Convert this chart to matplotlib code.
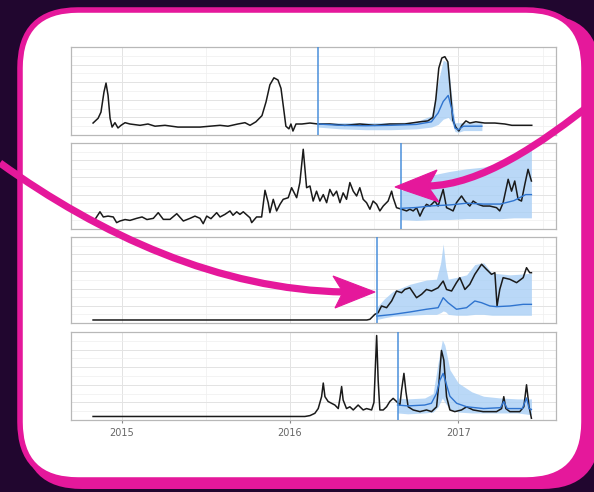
import matplotlib
matplotlib.use("Agg")
import matplotlib.pyplot as plt
from matplotlib.patches import FancyBboxPatch, Polygon, PathPatch
from matplotlib.path import Path
import numpy as np

# ---------------- data (decimal years, relative level 0-100) ----------------
year_ticks = [2015, 2016, 2017]
year_labels = ["2015", "2016", "2017"]

# panel 1
p1_t = [2014.831, 2014.861, 2014.878, 2014.896, 2014.908, 2014.920, 2014.932, 2014.944, 2014.961, 2014.979,
        2014.997, 2015.021, 2015.050, 2015.110, 2015.157, 2015.199, 2015.258, 2015.335, 2015.407, 2015.466,
        2015.525, 2015.585, 2015.632, 2015.691, 2015.733, 2015.763, 2015.798, 2015.834, 2015.858, 2015.881,
        2015.905, 2015.929, 2015.947, 2015.964, 2015.976, 2015.994, 2016.006, 2016.018, 2016.036, 2016.071,
        2016.119, 2016.166, 2016.237, 2016.326, 2016.415, 2016.504, 2016.593, 2016.682, 2016.772, 2016.819,
        2016.849, 2016.866, 2016.884, 2016.902, 2016.920, 2016.938, 2016.955, 2016.967, 2016.985, 2017.003,
        2017.021, 2017.045, 2017.068, 2017.104, 2017.157, 2017.217, 2017.276, 2017.318, 2017.377, 2017.436]
p1_v = [13.6, 19, 26, 49, 59, 45, 19, 9, 14, 8,
        11, 14, 12.5, 11, 12.5, 10, 11, 9, 9, 9,
        10, 11, 10, 12.5, 14, 11, 15, 22, 37.5, 57,
        65, 62.5, 53, 28, 10, 7, 12.5, 4.5, 12.5, 12.5,
        13.6, 12.5, 12.5, 11, 12.5, 11, 12.5, 12.5, 15, 16,
        20, 40, 76, 87.5, 89, 83, 45, 17, 9, 4.5,
        11, 16, 13.6, 15, 13.6, 13.6, 12.5, 11, 11, 11]
p1_cut = 2016.166
p1_ft = [2016.166, 2016.30, 2016.45, 2016.60, 2016.75, 2016.84, 2016.88, 2016.91, 2016.94, 2016.96, 2016.98, 2017.00, 2017.03, 2017.14]
p1_fv = [12.5, 11, 10.5, 11, 12, 15, 25, 38, 45, 30, 8, 6, 10, 10]
p1_lo = [9, 7, 6, 6, 7, 9, 12, 18, 20, 15, 4, 3, 5, 5]
p1_hi = [14, 14, 14, 14, 15, 22, 60, 85, 82, 45, 14, 14, 14, 14]

# panel 2
p2_t = [2014.831, 2014.843, 2014.872, 2014.892, 2014.920, 2014.951, 2014.971, 2014.991, 2015.021, 2015.050,
        2015.090, 2015.122, 2015.151, 2015.189, 2015.218, 2015.248, 2015.288, 2015.328, 2015.367, 2015.407,
        2015.436, 2015.466, 2015.485, 2015.506, 2015.531, 2015.565, 2015.585, 2015.614, 2015.644, 2015.662,
        2015.684, 2015.703, 2015.723, 2015.763, 2015.773, 2015.802, 2015.832, 2015.852, 2015.871, 2015.881,
        2015.901, 2015.921, 2015.941, 2015.960, 2015.990, 2016.010, 2016.040, 2016.059, 2016.079, 2016.099,
        2016.119, 2016.138, 2016.158, 2016.178, 2016.198, 2016.218, 2016.237, 2016.257, 2016.277, 2016.297,
        2016.316, 2016.336, 2016.356, 2016.376, 2016.396, 2016.415, 2016.435, 2016.455, 2016.475, 2016.494,
        2016.515, 2016.534, 2016.554, 2016.583, 2016.604, 2016.613, 2016.633, 2016.663, 2016.693, 2016.712,
        2016.732, 2016.752, 2016.772, 2016.791, 2016.811, 2016.831, 2016.861, 2016.880, 2016.910, 2016.930,
        2016.950, 2016.969, 2016.989, 2017.019, 2017.039, 2017.068, 2017.088, 2017.117, 2017.147, 2017.187,
        2017.227, 2017.246, 2017.266, 2017.296, 2017.316, 2017.335, 2017.355, 2017.375, 2017.395, 2017.414,
        2017.434]
p2_v = [9.3, 11.3, 20, 14, 15, 14, 7.4, 9.3, 11, 10,
        12.4, 14, 11, 12.4, 19, 11.2, 11.2, 17.8, 9.3, 12.4,
        15, 12.4, 6.2, 15, 12, 19, 14, 17, 21, 16,
        20, 17, 20, 13, 7.4, 14, 14, 45, 30.6, 19,
        34.5, 21, 28.7, 34.5, 36.4, 48, 36.4, 54, 92.7, 48,
        50, 32.5, 44, 32.5, 40, 30.6, 46, 38.4, 44, 30.6,
        42, 34.5, 54, 44, 38.4, 48, 34.5, 30.6, 23, 32.5,
        28.7, 21, 26.7, 32.5, 44, 36.4, 24.8, 23, 21, 23,
        21, 24.8, 15, 23, 28.7, 26.7, 32.5, 26.7, 46, 24.8,
        23, 21, 30.6, 38.4, 32.5, 26.7, 32.5, 28.7, 26.7, 26.7,
        24.8, 21, 30.6, 57.8, 44, 55.8, 34.5, 32.5, 52, 69.4,
        55.8]
p2_cut = 2016.657
p2_ft = [2016.657, 2016.75, 2016.85, 2016.95, 2017.05, 2017.15, 2017.25, 2017.33, 2017.40, 2017.434]
p2_fv = [24, 25, 27, 28, 30, 29, 29, 33, 40, 40]
p2_lo = [11, 10, 11, 11, 12, 12, 12, 13, 13, 13]
p2_hi = [44, 56, 63, 67, 70, 72, 77, 84, 90, 92]

# panel 3
p3_t = [2014.831, 2015.466, 2016.059, 2016.457, 2016.475, 2016.504, 2016.524, 2016.544, 2016.574, 2016.604,
        2016.633, 2016.663, 2016.682, 2016.712, 2016.732, 2016.752, 2016.782, 2016.811, 2016.841, 2016.880,
        2016.910, 2016.930, 2016.960, 2016.989, 2017.009, 2017.039, 2017.068, 2017.098, 2017.138, 2017.167,
        2017.197, 2017.217, 2017.230, 2017.246, 2017.266, 2017.306, 2017.346, 2017.385, 2017.405, 2017.424,
        2017.434]
p3_v = [3.5, 3.5, 3.5, 3.5, 4.3, 10, 12, 19.8, 17.8, 25.6,
        37.2, 35.2, 39, 41, 35.2, 29.4, 33.4, 39, 37.2, 41,
        48.8, 39, 37.2, 46.9, 52.7, 39, 45, 56.6, 68.3, 62.4,
        56.6, 58.5, 19.8, 39, 52.7, 50.8, 46.9, 52.7, 64.3, 58.5,
        58.5]
p3_cut = 2016.516
p3_ft = [2016.515, 2016.613, 2016.712, 2016.811, 2016.880, 2016.910, 2016.939, 2016.989, 2017.049, 2017.098,
         2017.138, 2017.187, 2017.227, 2017.306, 2017.385, 2017.434]
p3_fv = [8, 10, 12.8, 16, 17.8, 29.4, 23.6, 16, 17.8, 25.6, 23.6, 19.8, 19, 19.8, 21.7, 21.7]
p3_bt = [2016.515, 2016.56, 2016.613, 2016.712, 2016.811, 2016.87, 2016.895, 2016.91, 2016.925, 2016.94,
         2016.989, 2017.049, 2017.098, 2017.15, 2017.20, 2017.306, 2017.385, 2017.434]
p3_lo = [4, 6, 8, 9, 10, 10, 12, 14, 13, 10, 9, 9, 10, 10, 9, 9, 9, 9]
p3_hi = [18, 28, 37, 45, 50, 51, 70, 92, 65, 51, 53, 56, 68, 70, 58, 56, 57, 58]

# panel 4
p4_t = [2014.831, 2015.466, 2016.089, 2016.119, 2016.148, 2016.168, 2016.188, 2016.198, 2016.208, 2016.227,
        2016.247, 2016.267, 2016.287, 2016.297, 2016.307, 2016.316, 2016.336, 2016.356, 2016.376, 2016.405,
        2016.435, 2016.455, 2016.485, 2016.499, 2016.515, 2016.524, 2016.534, 2016.554, 2016.574, 2016.593,
        2016.613, 2016.633, 2016.653, 2016.663, 2016.677, 2016.689, 2016.702, 2016.732, 2016.772, 2016.811,
        2016.841, 2016.871, 2016.886, 2016.900, 2016.914, 2016.930, 2016.950, 2016.979, 2017.019, 2017.049,
        2017.088, 2017.147, 2017.227, 2017.257, 2017.270, 2017.282, 2017.306, 2017.365, 2017.389, 2017.405,
        2017.420, 2017.434]
p4_v = [4, 4, 4, 5, 7.6, 13, 26.5, 42, 26.5, 21,
        19, 17, 13, 24.6, 38, 22.7, 13, 15, 11.4, 17,
        11.4, 13, 11.4, 20, 96, 45, 11.4, 11.4, 15, 21,
        24.6, 21, 17, 34, 53, 32, 15, 11.4, 9.5, 11.4,
        9.5, 15, 45, 79, 68, 26.5, 11.4, 9.5, 11.4, 15,
        11.4, 9.5, 9.5, 13, 26.5, 13, 9.5, 9.5, 15, 40,
        15, 2]
p4_cut = 2016.639
p4_ft = [2016.639, 2016.70, 2016.80, 2016.84, 2016.87, 2016.89, 2016.91, 2016.93, 2016.95, 2016.99,
         2017.05, 2017.15, 2017.25, 2017.27, 2017.29, 2017.38, 2017.405, 2017.42, 2017.434]
p4_fv = [17, 16, 17, 19, 30, 45, 53, 40, 27, 19, 15, 13, 14, 21, 13, 13, 25, 13, 12]
p4_bt = [2016.639, 2016.70, 2016.80, 2016.85, 2016.88, 2016.905, 2016.92, 2016.95, 2017.00, 2017.08,
         2017.15, 2017.25, 2017.35, 2017.434]
p4_lo = [8, 7, 8, 9, 15, 25, 20, 12, 9, 8, 8, 8, 8, 6]
p4_hi = [25, 24, 25, 30, 65, 91, 85, 57, 42, 32, 27, 25, 24, 24]

panels = [
    dict(t=p1_t, v=p1_v, cut=p1_cut, ft=p1_ft, fv=p1_fv, bt=p1_ft, lo=p1_lo, hi=p1_hi),
    dict(t=p2_t, v=p2_v, cut=p2_cut, ft=p2_ft, fv=p2_fv, bt=p2_ft, lo=p2_lo, hi=p2_hi),
    dict(t=p3_t, v=p3_v, cut=p3_cut, ft=p3_ft, fv=p3_fv, bt=p3_bt, lo=p3_lo, hi=p3_hi),
    dict(t=p4_t, v=p4_v, cut=p4_cut, ft=p4_ft, fv=p4_fv, bt=p4_bt, lo=p4_lo, hi=p4_hi),
]

# ---------------- layout / style ----------------
W, H = 594, 492
BG = "#21062f"
MAGENTA = "#e5189b"
BAND = "#a9cff5"
FC_LINE = "#2f74cf"
CUT_LINE = "#4a8fdb"

fig = plt.figure(figsize=(W / 100, H / 100), dpi=100, facecolor=BG)

# background card
bg = fig.add_axes([0, 0, 1, 1], zorder=0)
bg.set_xlim(0, W); bg.set_ylim(H, 0); bg.axis("off")
bg.add_patch(FancyBboxPatch((24, 15), 576, 474, boxstyle="round,pad=0,rounding_size=58",
                            fc=MAGENTA, ec="none"))
bg.add_patch(FancyBboxPatch((20, 10), 564, 470, boxstyle="round,pad=0,rounding_size=58",
                            fc="white", ec=MAGENTA, lw=4.0))

def px_axes(x0, y0, x1, y1, z=2):
    return fig.add_axes([x0 / W, 1 - y1 / H, (x1 - x0) / W, (y1 - y0) / H], zorder=z)

panel_px = [(71, 47, 556, 135), (71, 143, 556, 229), (71, 237, 556, 323), (71, 332, 556, 420)]
xmin, xmax = 2014.70, 2017.58

for i, (p, box) in enumerate(zip(panels, panel_px)):
    ax = px_axes(*box)
    ax.set_facecolor("white")
    ax.set_yticks(np.arange(0, 101, 20))
    ax.set_yticks(np.arange(10, 100, 20), minor=True)
    ax.set_xticks(year_ticks)
    ax.set_xticks([2014.5 + k for k in range(4)], minor=True)
    ax.set_xlim(xmin, xmax)
    ax.set_ylim(0, 100)
    ax.grid(True, which="major", color="#e3e3e3", lw=0.7)
    ax.grid(True, which="minor", color="#efefef", lw=0.5)
    ax.set_axisbelow(True)
    for s in ax.spines.values():
        s.set_color("#b8b8b8"); s.set_linewidth(0.9)
    ax.tick_params(axis="y", which="both", left=False, labelleft=False)
    ax.tick_params(axis="x", which="minor", bottom=False)
    if i < 3:
        ax.tick_params(axis="x", which="major", bottom=False, labelbottom=False)
    else:
        ax.set_xticklabels(year_labels)
        ax.tick_params(axis="x", which="major", length=2.5, width=0.8, color="#888888",
                       labelsize=7, labelcolor="#666666", pad=3)
    ax.fill_between(p["bt"], p["lo"], p["hi"], color=BAND, alpha=0.8, lw=0, zorder=2)
    ax.plot(p["t"], p["v"], color="#1a1a1a", lw=1.1, zorder=3)
    ax.plot(p["ft"], p["fv"], color=FC_LINE, lw=1.0, zorder=4)
    ax.axvline(p["cut"], color=CUT_LINE, lw=1.1, zorder=5)

# arrows overlay
ov = fig.add_axes([0, 0, 1, 1], zorder=10)
ov.set_xlim(0, W); ov.set_ylim(H, 0); ov.axis("off"); ov.patch.set_alpha(0)

def curve_arrow(p0, p1, p2, p3, head):
    path = Path([p0, p1, p2, p3], [Path.MOVETO, Path.CURVE4, Path.CURVE4, Path.CURVE4])
    ov.add_patch(PathPatch(path, fc="none", ec=MAGENTA, lw=5.2, capstyle="butt"))
    ov.add_patch(Polygon(head, closed=True, fc=MAGENTA, ec=MAGENTA, lw=0.8))

curve_arrow((0, 163), (100, 235), (220, 290), (345, 292),
            [(375, 292), (333, 276), (343, 292), (335, 308)])
curve_arrow((596, 100), (540, 145), (480, 185), (428, 186),
            [(395, 187), (437, 170), (428, 186.5), (439, 202)])

fig.savefig("out.png", dpi=100, facecolor=BG)
